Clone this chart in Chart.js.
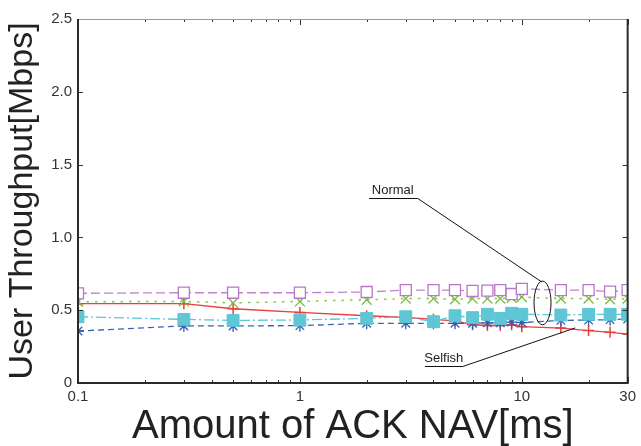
<!DOCTYPE html>
<html><head><meta charset="utf-8">
<script src="https://cdn.jsdelivr.net/npm/chart.js@4.4.1/dist/chart.umd.min.js"></script>
<style>html,body{margin:0;padding:0;background:#fff;}#c{display:block;}</style>
</head><body>
<canvas id="c" width="641" height="446"></canvas>
<script>
// ---- data ----
const navMs = [0.1, 0.3, 0.5, 1, 2, 3, 4, 5, 6, 7, 8, 9, 10, 15, 20, 25, 30];
const normalSquareOpen = [0.616, 0.62, 0.62, 0.62, 0.625, 0.638, 0.638, 0.638, 0.632, 0.635, 0.638, 0.611, 0.646, 0.638, 0.638, 0.627, 0.638];
const normalCross = [0.558, 0.56, 0.55, 0.56, 0.572, 0.58, 0.58, 0.575, 0.58, 0.58, 0.58, 0.585, 0.59, 0.58, 0.58, 0.575, 0.58];
const normalSquareFilled = [0.455, 0.437, 0.43, 0.433, 0.444, 0.455, 0.421, 0.462, 0.449, 0.472, 0.444, 0.479, 0.472, 0.467, 0.472, 0.472, 0.472];
const normalStar = [0.357, 0.392, 0.392, 0.394, 0.41, 0.41, 0.41, 0.41, 0.41, 0.413, 0.413, 0.418, 0.415, 0.43, 0.432, 0.435, 0.44];
const selfishPlus = [0.545, 0.545, 0.51, 0.485, 0.462, 0.45, 0.437, 0.426, 0.4, 0.395, 0.395, 0.4, 0.387, 0.377, 0.36, 0.348, 0.336];
const xTickValues = [0.1, 1, 10, 30];
const xMinorValues = [0.2, 0.3, 0.4, 0.5, 0.6, 0.7, 0.8, 0.9, 2, 3, 4, 5, 6, 7, 8, 9, 20];
const yTickValues = [0, 0.5, 1, 1.5, 2, 2.5];
const yTickLabels = ['0', '0.5', '1.0', '1.5', '2.0', '2.5'];
const xTitle = 'Amount of ACK NAV[ms]';
const yTitle = 'User Throughput[Mbps]';
// annotation anchors in data coordinates
const normalNote = {text: 'Normal', x: 2.62, y: 1.32, ulFrom: 2.05, ulTo: 3.40, ulY: 1.272, toX: 12.3, toY: 0.694};
const normalEllipse = {x: 12.4, yLo: 0.40, yHi: 0.70, halfWidth: 8.5};
const selfishNote = {text: 'Selfish', x: 4.45, y: 0.172, ulFrom: 3.66, ulTo: 5.42, ulY: 0.117, toX: 17.4, toY: 0.378};

const FONT = "'Liberation Sans', Arial, sans-serif";
const pts = arr => navMs.map((x, i) => ({x, y: arr[i]}));

const decor = {
  id: 'decor',
  afterDatasetsDraw(chart) {
    const {ctx, chartArea: a, scales: {x, y}} = chart;
    ctx.save();
    // tick marks (inside, mirrored)
    ctx.strokeStyle = '#333';
    ctx.lineWidth = 1;
    ctx.beginPath();
    xTickValues.forEach(v => {
      const px = Math.round(x.getPixelForValue(v)) + 0.5;
      ctx.moveTo(px, a.bottom); ctx.lineTo(px, a.bottom - 6);
      ctx.moveTo(px, a.top); ctx.lineTo(px, a.top + 6);
    });
    xMinorValues.forEach(v => {
      const px = Math.round(x.getPixelForValue(v)) + 0.5;
      ctx.moveTo(px, a.bottom); ctx.lineTo(px, a.bottom - 3);
      ctx.moveTo(px, a.top); ctx.lineTo(px, a.top + 3);
    });
    yTickValues.forEach(v => {
      const py = Math.round(y.getPixelForValue(v)) + 0.5;
      ctx.moveTo(a.left, py); ctx.lineTo(a.left + 5, py);
      ctx.moveTo(a.right, py); ctx.lineTo(a.right - 5, py);
    });
    ctx.stroke();
    // frame
    ctx.strokeStyle = '#999';
    ctx.lineWidth = 1;
    ctx.beginPath();
    ctx.moveTo(a.left, a.top + 0.5); ctx.lineTo(a.right, a.top + 0.5);
    ctx.stroke();
    ctx.strokeStyle = '#2a2a2a';
    ctx.lineWidth = 2;
    ctx.beginPath();
    ctx.moveTo(a.left, a.top); ctx.lineTo(a.left, a.bottom); ctx.lineTo(a.right, a.bottom); ctx.lineTo(a.right, a.top);
    ctx.stroke();

    // annotations
    ctx.strokeStyle = '#111';
    ctx.fillStyle = '#222';
    ctx.lineWidth = 1;
    ctx.font = '13px ' + FONT;
    ctx.textAlign = 'center';
    ctx.textBaseline = 'middle';
    [normalNote, selfishNote].forEach(n => {
      ctx.fillText(n.text, x.getPixelForValue(n.x), y.getPixelForValue(n.y));
      const uy = Math.round(y.getPixelForValue(n.ulY)) + 0.5;
      const ux2 = x.getPixelForValue(n.ulTo);
      ctx.beginPath();
      ctx.moveTo(x.getPixelForValue(n.ulFrom), uy);
      ctx.lineTo(ux2, uy);
      ctx.lineTo(x.getPixelForValue(n.toX), y.getPixelForValue(n.toY));
      ctx.stroke();
    });
    const ey1 = y.getPixelForValue(normalEllipse.yHi), ey2 = y.getPixelForValue(normalEllipse.yLo);
    ctx.beginPath();
    ctx.ellipse(x.getPixelForValue(normalEllipse.x), (ey1 + ey2) / 2, normalEllipse.halfWidth, (ey2 - ey1) / 2, 0, 0, Math.PI * 2);
    ctx.stroke();
    ctx.restore();
  }
};

new Chart(document.getElementById('c'), {
  type: 'line',
  data: {
    datasets: [
      {label: 'Normal (open square)', data: pts(normalSquareOpen), borderColor: '#bd84cc', borderWidth: 1.3, borderDash: [9, 4],
       pointStyle: 'rect', pointRadius: 7.8, pointBorderColor: '#b678c6', pointBackgroundColor: '#ffffff', pointBorderWidth: 1.3},
      {label: 'Normal (filled square)', data: pts(normalSquareFilled), borderColor: '#5cc7d7', borderWidth: 1.3, borderDash: [10, 3, 2, 3],
       pointStyle: 'rect', pointRadius: 8.4, pointBorderColor: '#5ec6d5', pointBackgroundColor: '#5ec6d5', pointBorderWidth: 1},
      {label: 'Normal (x)', data: pts(normalCross), borderColor: '#86c752', borderWidth: 1.5, borderDash: [2.5, 6],
       pointStyle: 'crossRot', pointRadius: 7, pointBorderColor: '#74bd3c', pointBorderWidth: 1.3},
      {label: 'Normal (star)', data: pts(normalStar), borderColor: '#3565b3', borderWidth: 1.3, borderDash: [6, 4],
       pointStyle: 'star', pointRadius: 6, pointBorderColor: '#2e5fb0', pointBorderWidth: 1.3},
      {label: 'Selfish', data: pts(selfishPlus), borderColor: '#ee3b3b', borderWidth: 1.3,
       pointStyle: 'cross', pointRadius: 5.5, pointBorderColor: '#ee3b3b', pointBorderWidth: 1.5}
    ]
  },
  options: {
    responsive: false,
    animation: false,
    devicePixelRatio: 1,
    layout: {padding: {top: 19, right: 13, left: 0, bottom: 0}},
    plugins: {legend: {display: false}, tooltip: {enabled: false}},
    elements: {line: {tension: 0, fill: false}},
    scales: {
      x: {
        type: 'logarithmic', min: 0.1, max: 30,
        grid: {display: false, drawTicks: false}, border: {display: false},
        afterBuildTicks: s => { s.ticks = xTickValues.map(v => ({value: v})); },
        afterFit: s => { s.height = 63; },
        ticks: {autoSkip: false, maxRotation: 0, padding: 5, color: '#333', font: {family: FONT, size: 15},
                callback: v => String(v)},
        title: {display: true, text: xTitle, color: '#222', font: {family: FONT, size: 40, lineHeight: 0.95}, padding: {top: 0, bottom: 0}}
      },
      y: {
        type: 'linear', min: 0, max: 2.5,
        grid: {display: false, drawTicks: false}, border: {display: false},
        afterBuildTicks: s => { s.ticks = yTickValues.map(v => ({value: v})); },
        afterFit: s => { s.width = 78; },
        ticks: {autoSkip: false, padding: 6, color: '#333', font: {family: FONT, size: 15},
                callback: (v) => yTickLabels[yTickValues.indexOf(v)]},
        title: {display: true, text: yTitle, color: '#222', font: {family: FONT, size: 34, lineHeight: 1}, padding: {top: 6, bottom: 0}}
      }
    }
  },
  plugins: [decor]
});
</script>
</body></html>
